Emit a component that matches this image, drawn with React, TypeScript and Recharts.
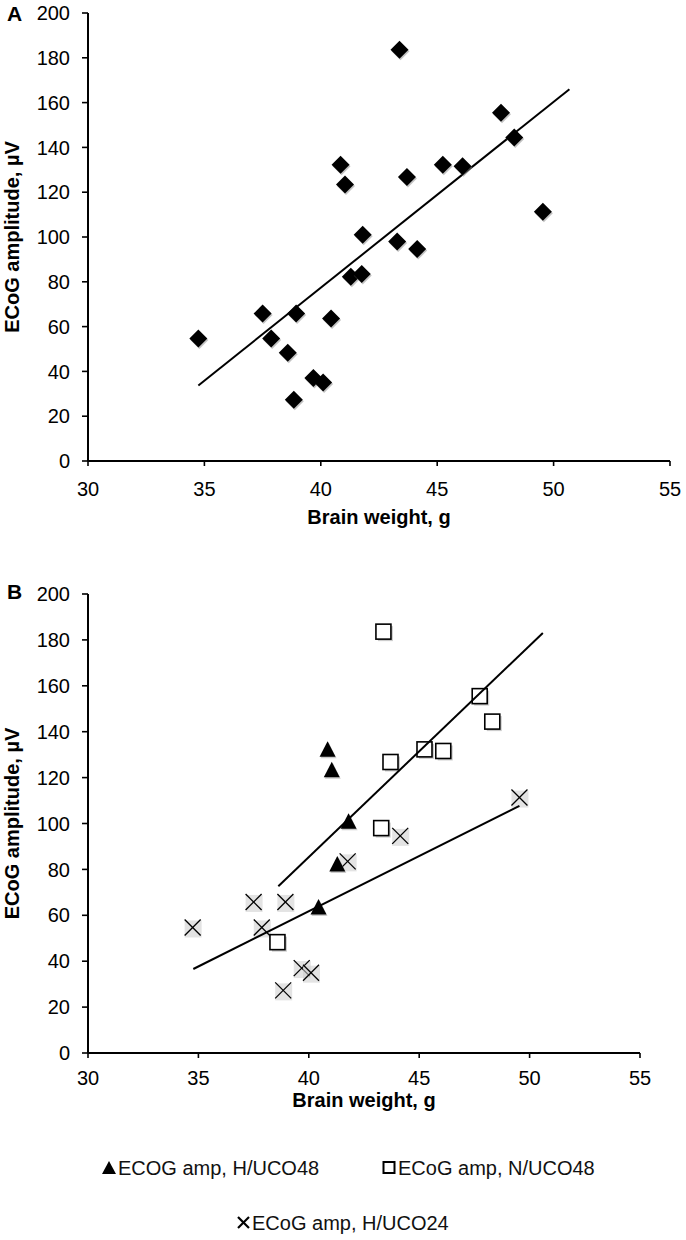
import React from "react";
import { Scatter, ScatterChart, XAxis, YAxis } from "recharts";

const FONT = '"Liberation Sans", Arial, Helvetica, sans-serif';

// panel A: all animals
const weightsA = [
  34.74, 37.5, 37.87, 38.58, 38.84, 38.94, 39.68, 40.1, 40.44, 40.85, 41.04,
  41.29, 41.76, 41.8, 43.28, 43.38, 43.7, 44.14, 45.24, 46.09, 47.74, 48.31,
  49.54,
];
const ampsA = [
  54.7, 65.8, 54.7, 48.3, 27.3, 65.8, 37, 35, 63.6, 132.3, 123.4, 82.3, 83.5,
  101, 98, 183.6, 126.8, 94.6, 132.3, 131.6, 155.5, 144.4, 111.3,
];
const trendWeightsA = [34.74, 50.68];
const trendAmpsA = [33.7, 166];

// panel B: groups
const hUco48Weights = [40.85, 41.04, 41.8, 41.29, 40.44];
const hUco48Amps = [132.3, 123.4, 101, 82.3, 63.6];
const nUco48Weights = [43.38, 47.74, 48.31, 45.24, 46.09, 43.7, 43.28, 38.58];
const nUco48Amps = [183.6, 155.5, 144.4, 132.3, 131.6, 126.8, 98, 48.3];
const hUco24Weights = [
  34.74, 37.5, 38.94, 37.87, 39.68, 40.1, 38.84, 41.76, 44.14, 49.54,
];
const hUco24Amps = [54.7, 65.8, 65.8, 54.7, 37, 35, 27.3, 83.5, 94.6, 111.3];
const trendWeightsB48 = [38.62, 50.6];
const trendAmpsB48 = [72.7, 183];
const trendWeightsB24 = [34.77, 49.54];
const trendAmpsB24 = [36.6, 107.7];

const xTicks = [30, 35, 40, 45, 50, 55];
const yTicks = [0, 20, 40, 60, 80, 100, 120, 140, 160, 180, 200];

const toPoints = (xs: number[], ys: number[]) =>
  xs.map((x, i) => ({ x, y: ys[i] }));

const Diamond = (props: any) => {
  const { cx, cy } = props;
  const d = 9;
  const pts = (ox: number, oy: number) =>
    `${cx + ox},${cy - d + oy} ${cx + d + ox},${cy + oy} ${cx + ox},${cy + d + oy} ${cx - d + ox},${cy + oy}`;
  return (
    <g>
      <polygon points={pts(1, 1.5)} fill="#888" opacity={0.5} />
      <polygon points={pts(0, 0)} fill="#000" />
    </g>
  );
};

const Triangle = (props: any) => {
  const { cx, cy } = props;
  return (
    <g>
      <polygon
        points={`${cx + 1},${cy - 7} ${cx + 9},${cy + 9} ${cx - 7},${cy + 9}`}
        fill="#999"
        opacity={0.5}
      />
      <polygon
        points={`${cx},${cy - 8} ${cx + 8},${cy + 7.5} ${cx - 8},${cy + 7.5}`}
        fill="#000"
      />
    </g>
  );
};

const Square = (props: any) => {
  const { cx, cy } = props;
  const s = 15;
  return (
    <g>
      <rect x={cx - s / 2 + 2} y={cy - s / 2 + 2} width={s} height={s} fill="#aaa" opacity={0.6} />
      <rect
        x={cx - s / 2}
        y={cy - s / 2}
        width={s}
        height={s}
        fill="#fff"
        stroke="#000"
        strokeWidth={1.6}
      />
    </g>
  );
};

const Cross = (props: any) => {
  const { cx, cy } = props;
  const h = 8;
  return (
    <g>
      <rect x={cx - 8} y={cy - 7} width={17} height={17} fill="#ccc" opacity={0.55} />
      <line x1={cx - h} y1={cy - h} x2={cx + h} y2={cy + h} stroke="#000" strokeWidth={1.3} />
      <line x1={cx + h} y1={cy - h} x2={cx - h} y2={cy + h} stroke="#000" strokeWidth={1.3} />
    </g>
  );
};

const NoDot = () => <g />;

const axisLine = { stroke: "#000", strokeWidth: 2 };
const tickLine = { stroke: "#000", strokeWidth: 1.6 };
const tickStyle = { fill: "#000", fontSize: 20, fontFamily: FONT };
const titleStyle = {
  fill: "#000",
  fontSize: 20,
  fontWeight: "bold" as const,
  fontFamily: FONT,
};

const panelLetter = (letter: string, top: number) => (
  <div
    style={{
      position: "absolute",
      left: 7,
      top,
      fontFamily: FONT,
      fontWeight: "bold",
      fontSize: 21,
      lineHeight: "21px",
    }}
  >
    {letter}
  </div>
);

const LegendEntry = ({
  left,
  top,
  marker,
  text,
}: {
  left: number;
  top: number;
  marker: React.ReactNode;
  text: string;
}) => (
  <div
    style={{
      position: "absolute",
      left,
      top,
      display: "flex",
      alignItems: "center",
      fontFamily: FONT,
      fontSize: 20,
      lineHeight: "22px",
      color: "#111",
      whiteSpace: "nowrap",
    }}
  >
    <svg width={15} height={16} style={{ marginRight: 1 }}>
      {marker}
    </svg>
    <span>{text}</span>
  </div>
);

export default function App() {
  const dataA = toPoints(weightsA, ampsA);
  const trendA = toPoints(trendWeightsA, trendAmpsA);
  const h48 = toPoints(hUco48Weights, hUco48Amps);
  const n48 = toPoints(nUco48Weights, nUco48Amps);
  const h24 = toPoints(hUco24Weights, hUco24Amps);
  const trend48 = toPoints(trendWeightsB48, trendAmpsB48);
  const trend24 = toPoints(trendWeightsB24, trendAmpsB24);

  return (
    <div
      style={{
        position: "absolute",
        left: 0,
        top: 0,
        width: 686,
        height: 1240,
        background: "#fff",
        overflow: "hidden",
      }}
    >
      {panelLetter("A", 3)}
      <div style={{ position: "absolute", left: 0, top: 0 }}>
        <ScatterChart
          width={686}
          height={531}
          margin={{ top: 13, right: 16, bottom: 0, left: 0 }}
        >
          <XAxis
            type="number"
            dataKey="x"
            domain={[30, 55]}
            ticks={xTicks}
            interval={0}
            height={70}
            tickSize={5}
            tickMargin={16}
            axisLine={axisLine}
            tickLine={tickLine}
            tick={tickStyle}
            label={{
              value: "Brain weight, g",
              position: "insideBottom",
              offset: 7,
              style: titleStyle,
            }}
          />
          <YAxis
            type="number"
            dataKey="y"
            domain={[0, 200]}
            ticks={yTicks}
            interval={0}
            width={88}
            tickSize={6}
            tickMargin={12}
            axisLine={axisLine}
            tickLine={tickLine}
            tick={tickStyle}
            label={{
              value: "ECoG amplitude, µV",
              angle: -90,
              position: "insideLeft",
              offset: 12,
              style: { ...titleStyle, textAnchor: "middle" },
            }}
          />
          <Scatter
            data={trendA}
            line={{ stroke: "#000", strokeWidth: 2 }}
            shape={NoDot}
            isAnimationActive={false}
          />
          <Scatter data={dataA} shape={Diamond} isAnimationActive={false} />
        </ScatterChart>
      </div>

      {panelLetter("B", 581)}
      <div style={{ position: "absolute", left: 0, top: 580 }}>
        <ScatterChart
          width={686}
          height={533}
          margin={{ top: 14, right: 46, bottom: 0, left: 0 }}
        >
          <XAxis
            type="number"
            dataKey="x"
            domain={[30, 55]}
            ticks={xTicks}
            interval={0}
            height={60}
            tickSize={5}
            tickMargin={13}
            axisLine={axisLine}
            tickLine={tickLine}
            tick={tickStyle}
            label={{
              value: "Brain weight, g",
              position: "insideBottom",
              offset: 6,
              style: titleStyle,
            }}
          />
          <YAxis
            type="number"
            dataKey="y"
            domain={[0, 200]}
            ticks={yTicks}
            interval={0}
            width={88}
            tickSize={6}
            tickMargin={12}
            axisLine={axisLine}
            tickLine={tickLine}
            tick={tickStyle}
            label={{
              value: "ECoG amplitude, µV",
              angle: -90,
              position: "insideLeft",
              offset: 12,
              style: { ...titleStyle, textAnchor: "middle" },
            }}
          />
          <Scatter data={h24} shape={Cross} isAnimationActive={false} />
          <Scatter data={n48} shape={Square} isAnimationActive={false} />
          <Scatter data={h48} shape={Triangle} isAnimationActive={false} />
          <Scatter
            data={trend48}
            line={{ stroke: "#000", strokeWidth: 2 }}
            shape={NoDot}
            isAnimationActive={false}
          />
          <Scatter
            data={trend24}
            line={{ stroke: "#000", strokeWidth: 2 }}
            shape={NoDot}
            isAnimationActive={false}
          />
        </ScatterChart>
      </div>

      <LegendEntry
        left={102}
        top={1157}
        text="ECOG amp, H/UCO48"
        marker={<polygon points="7,1 14,14 0,14" fill="#000" />}
      />
      <LegendEntry
        left={382}
        top={1157}
        text="ECoG amp, N/UCO48"
        marker={
          <rect x={1.5} y={2} width={11} height={11} fill="#fff" stroke="#000" strokeWidth={2} />
        }
      />
      <LegendEntry
        left={236}
        top={1212}
        text="ECoG amp, H/UCO24"
        marker={
          <g stroke="#000" strokeWidth={2.2}>
            <line x1={2} y1={2} x2={13} y2={13} />
            <line x1={13} y1={2} x2={2} y2={13} />
          </g>
        }
      />
    </div>
  );
}
